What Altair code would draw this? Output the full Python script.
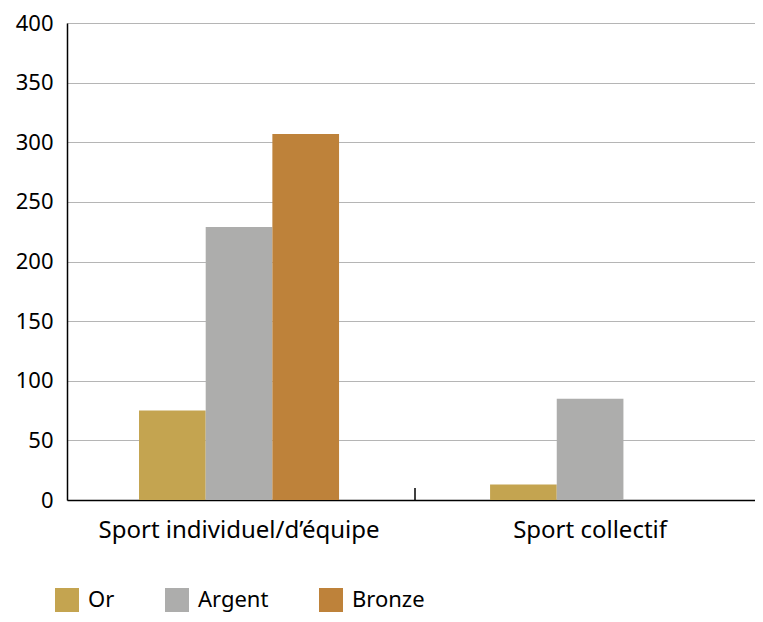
import altair as alt
import pandas as pd

categories = ["Sport individuel/d’équipe", "Sport collectif"]
medals = ["Or", "Argent", "Bronze"]
or_values = [75, 13]
argent_values = [229, 85]
bronze_values = [307, 0]
colors = ["#C4A450", "#ADADAC", "#BE823A"]

rows = []
for i, c in enumerate(categories):
    for m, vals in zip(medals, [or_values, argent_values, bronze_values]):
        rows.append({"cat": c, "medal": m, "value": vals[i]})
df = pd.DataFrame(rows)

FONT = "Noto Sans"

x = alt.X("cat:N", sort=categories, title=None,
          scale=alt.Scale(paddingInner=0.4302, paddingOuter=0.195, align=0.526),
          axis=alt.Axis(labelAngle=0, labelFontSize=24, labelColor="black",
                        labelFont=FONT, ticks=False, domainColor="black",
                        domainWidth=1.5, labelPadding=18, grid=False,
                        labelLimit=0))

bars = alt.Chart(df).mark_bar().encode(
    x=x,
    xOffset=alt.XOffset("medal:N", sort=medals,
                        scale=alt.Scale(paddingOuter=0, paddingInner=0)),
    y=alt.Y("value:Q", title=None,
            scale=alt.Scale(domain=[0, 400]),
            axis=alt.Axis(values=list(range(0, 401, 50)), labelFontSize=22,
                          labelFont=FONT, labelColor="black", ticks=False,
                          domainColor="black", domainWidth=1.5, labelPadding=14,
                          gridColor="#b5b5b5", gridWidth=1)),
    color=alt.Color("medal:N", sort=medals,
                    scale=alt.Scale(domain=medals, range=colors),
                    legend=alt.Legend(title=None, orient="none", direction="horizontal",
                                      legendX=-12, legendY=565, symbolType="square",
                                      symbolSize=576, symbolStrokeWidth=0,
                                      labelFontSize=22, labelFont=FONT,
                                      labelColor="black", columnPadding=50,
                                      labelOffset=9)),
)

tick = alt.Chart(pd.DataFrame({"cat": [categories[1]]})).mark_rule(
    color="black", strokeWidth=1.5).encode(
    x=alt.value(348),
    y=alt.value(465),
    y2=alt.value(477),
)

chart = alt.layer(bars, tick).properties(
    width=688, height=477,
    autosize=alt.AutoSizeParams(type="none"),
    padding={"left": 59, "top": 15, "right": 0, "bottom": 113},
).configure_view(stroke=None).configure(font=FONT)

chart.save("out.html", embed_options={"renderer": "svg", "actions": False})
